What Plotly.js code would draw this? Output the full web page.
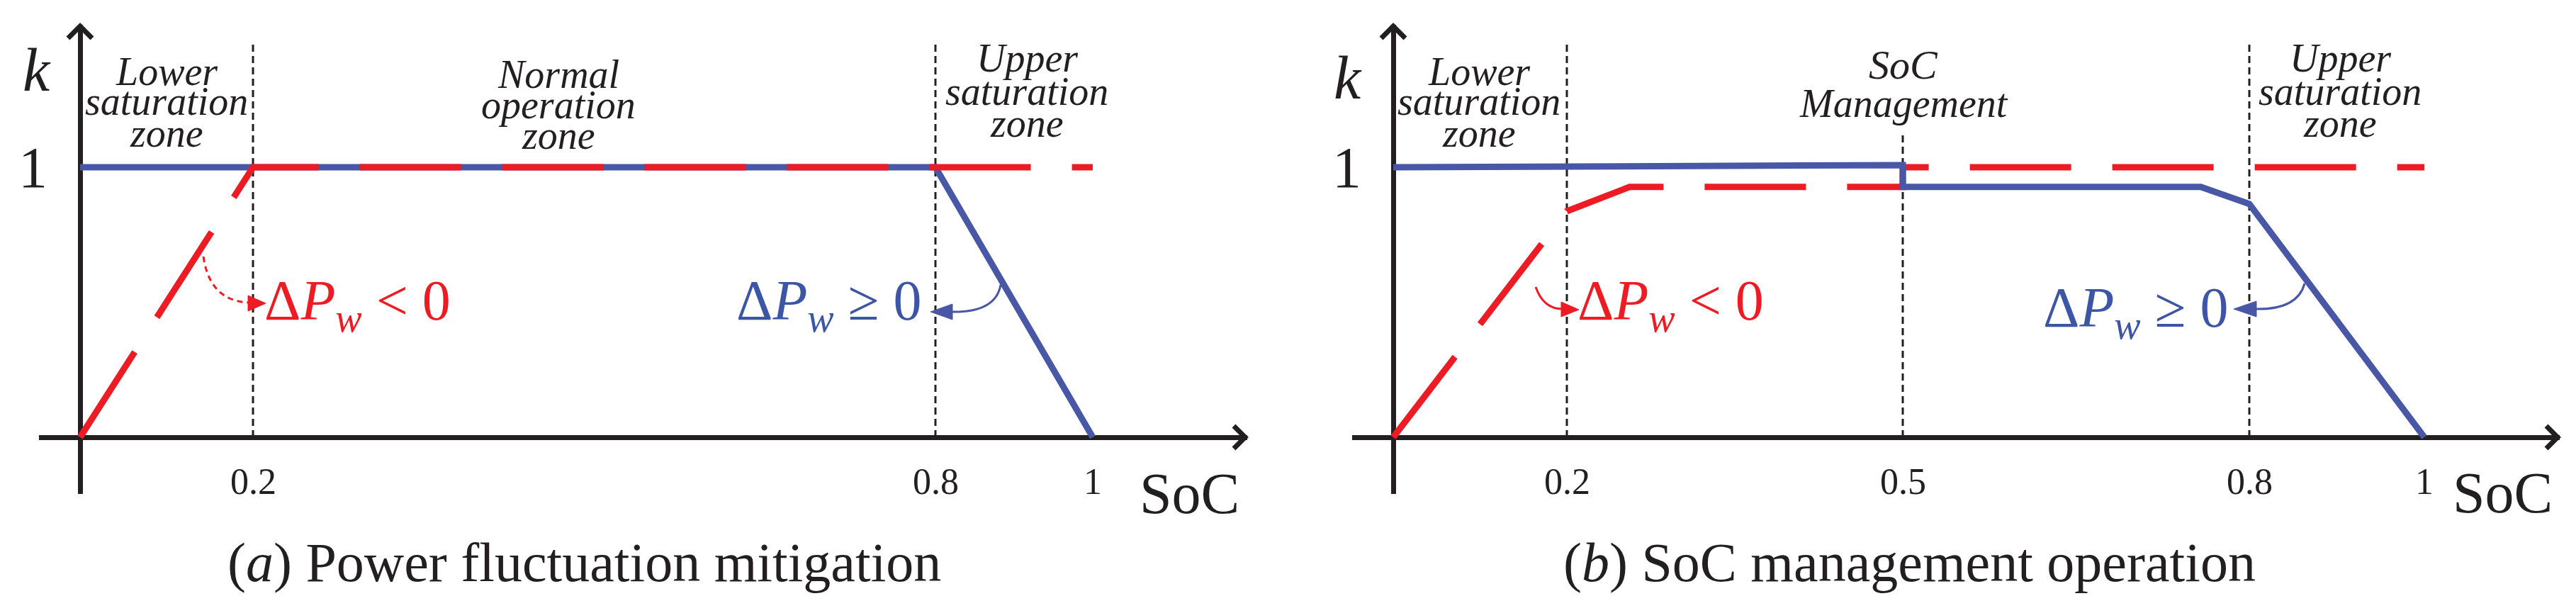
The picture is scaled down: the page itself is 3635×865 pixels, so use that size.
<!DOCTYPE html>
<html><head><meta charset="utf-8">
<script src="https://cdn.plot.ly/plotly-3.0.1.min.js"></script>
<style>html,body{margin:0;padding:0;background:#fff;} #chart{width:3635px;height:865px;}</style>
</head><body><div id="chart"></div>
<script>
// ---------------- data ----------------
// (a) Power fluctuation mitigation
const socA_red  = [0, 0.2, 1];
const kA_red    = [0, 1, 1];
const socA_blue = [0, 0.8, 1];
const kA_blue   = [1, 1, 0];
// (b) SoC management operation
const socB_red  = [0, 0.2, 0.256, 0.5, 0.5, 1];
const kB_red    = [0, 0.837, 0.927, 0.927, 1, 1];
const socB_blue = [0, 0.5, 0.5, 0.758, 0.8, 1];
const kB_blue   = [1, 1.008, 0.927, 0.927, 0.864, 0];
// ticks / zone boundaries
const ticksA = [0.2, 0.8, 1];
const tickTextA = ['0.2', '0.8', '1'];
const ticksB = [0.2, 0.5, 0.8, 1];
const tickTextB = ['0.2', '0.5', '0.8', '1'];
const boundsA = [0.2, 0.8];
const boundsB = [0.2, 0.5, 0.8];
const kTicks = [1];
const kTickText = ['1'];
const zonesA = [['Lower', 'saturation', 'zone'], ['Normal', 'operation', 'zone'], ['Upper', 'saturation', 'zone']];
const zonesB = [['Lower', 'saturation', 'zone'], ['SoC', 'Management'], ['Upper', 'saturation', 'zone']];
const captionA = '(<i>a</i>) Power fluctuation mitigation';
const captionB = '(<i>b</i>) SoC management operation';

// ---------------- layout config ----------------
const W = 3635, H = 865;
const RED = '#ED1C24', BLUE = '#4857A6', BLUE_T = '#3C55A5', BLACK = '#231F20';
const FONT = 'Liberation Serif, Times New Roman, serif';
// schematic (non-uniform) SoC axis: knots in SoC -> drawing units (px from origin)
const warpA = {soc: [0, 0.2, 0.8, 1], u: [0, 244, 1207, 1429]};
const warpB = {soc: [0, 0.2, 0.5, 0.8, 1], u: [0, 245, 719, 1208, 1455]};
function warp(w, s) {
  for (let i = 0; i < w.soc.length - 1; i++) {
    if (s <= w.soc[i + 1] || i === w.soc.length - 2) {
      const t = (s - w.soc[i]) / (w.soc[i + 1] - w.soc[i]);
      return w.u[i] + t * (w.u[i + 1] - w.u[i]);
    }
  }
}
const px = x => x / W, py = y => 1 - y / H;
function pathPx(pts, close) {
  return pts.map((p, i) => (i ? 'L' : 'M') + px(p[0]).toFixed(5) + ',' + py(p[1]).toFixed(5)).join(' ') + (close ? ' Z' : '');
}
function qPath(a, c, b) {
  return 'M' + px(a[0]) + ',' + py(a[1]) + ' Q' + px(c[0]) + ',' + py(c[1]) + ' ' + px(b[0]) + ',' + py(b[1]);
}

const traces = [
  {x: socA_blue.map(s => warp(warpA, s)), y: kA_blue, xaxis: 'x', yaxis: 'y', mode: 'lines',
   line: {color: BLUE, width: 9}, hoverinfo: 'skip'},
  {x: socA_red.map(s => warp(warpA, s)), y: kA_red, xaxis: 'x', yaxis: 'y', mode: 'lines',
   line: {color: RED, width: 9, dash: '143px,58px'}, hoverinfo: 'skip'},
  {x: socB_red.map(s => warp(warpB, s)), y: kB_red, xaxis: 'x2', yaxis: 'y2', mode: 'lines',
   line: {color: RED, width: 9, dash: '143px,58px'}, hoverinfo: 'skip'},
  {x: socB_blue.map(s => warp(warpB, s)), y: kB_blue, xaxis: 'x2', yaxis: 'y2', mode: 'lines',
   line: {color: BLUE, width: 9}, hoverinfo: 'skip'}
];

const yDom = [1 - 697 / H, 1 - 35 / H];
const yRange = [(617 - 697) / 381, (617 - 35) / 381];
const axX = (dom, rng) => ({domain: dom, range: rng, showgrid: false, showticklabels: false, ticks: '',
  zeroline: true, zerolinecolor: BLACK, zerolinewidth: 7, showline: false, fixedrange: true});
const axY = (anchor) => ({domain: yDom, range: yRange, anchor: anchor, showgrid: false, showticklabels: false, ticks: '',
  zeroline: true, zerolinecolor: BLACK, zerolinewidth: 7, showline: false, fixedrange: true});

const shapes = [];
const annotations = [];
const kTop = (617 - 57) / 381, kTopMid = (617 - 188) / 381;
boundsA.forEach(b => shapes.push({type: 'line', xref: 'x', yref: 'y', x0: warp(warpA, b), x1: warp(warpA, b), y0: 0, y1: kTop,
  line: {color: BLACK, width: 3, dash: '10px,6px'}, layer: 'below'}));
boundsB.forEach(b => shapes.push({type: 'line', xref: 'x2', yref: 'y2', x0: warp(warpB, b), x1: warp(warpB, b), y0: 0,
  y1: b === 0.5 ? kTopMid : kTop, line: {color: BLACK, width: 3, dash: '10px,6px'}, layer: 'below'}));

// axis arrowheads
[[113, 1760], [1966, 3612]].forEach(([ox, xe]) => {
  shapes.push({type: 'path', xref: 'paper', yref: 'paper', path: pathPx([[ox - 17, 54], [ox, 37], [ox + 17, 54]]),
    line: {color: BLACK, width: 7}});
  shapes.push({type: 'path', xref: 'paper', yref: 'paper', path: pathPx([[xe - 19, 601], [xe - 3, 617], [xe - 19, 633]]),
    line: {color: BLACK, width: 7}});
});

// curved pointer arrows
function pointer(start, ctrl, end, tip, back1, back2, color, dash) {
  shapes.push({type: 'path', xref: 'paper', yref: 'paper', path: qPath(start, ctrl, end),
    line: {color: color, width: 3, dash: dash || 'solid'}});
  shapes.push({type: 'path', xref: 'paper', yref: 'paper', path: pathPx([tip, back1, back2], true),
    fillcolor: color, line: {color: color, width: 1}});
}
pointer([287, 362], [296, 425], [352, 427], [375, 428], [350, 417], [350, 439], RED, '8px,6px');
pointer([1412, 402], [1405, 442], [1340, 440], [1313, 440], [1344, 429], [1344, 451], BLUE, 'solid');
pointer([2167, 405], [2178, 436], [2205, 436], [2228, 437], [2203, 426], [2203, 447], RED, 'solid');
pointer([3252, 400], [3242, 438], [3180, 436], [3152, 436], [3184, 425], [3184, 447], BLUE, 'solid');

function txt(x, y, text, size, opts) {
  return Object.assign({x: x, y: y, xref: 'paper', yref: 'paper', text: text, showarrow: false,
    xanchor: 'center', yanchor: 'middle', font: {family: FONT, size: size, color: BLACK}}, opts || {});
}

// x tick labels
ticksA.forEach((t, i) => annotations.push(txt(warp(warpA, t), py(679), tickTextA[i], 52, {xref: 'x'})));
ticksB.forEach((t, i) => annotations.push(txt(warp(warpB, t), py(679), tickTextB[i], 52, {xref: 'x2'})));
// k tick label and axis titles
kTicks.forEach((t, i) => {
  annotations.push(txt(px(46), t, kTickText[i], 82, {yref: 'y'}));
  annotations.push(txt(px(1900), t, kTickText[i], 82, {yref: 'y2'}));
});
annotations.push(txt(px(52), py(99), '<i>k</i>', 86));
annotations.push(txt(px(1902), py(110), '<i>k</i>', 86));
annotations.push(txt(px(1678), py(696), 'SoC', 82));
annotations.push(txt(px(3531), py(695), 'SoC', 82));

// zone labels (one annotation per line, tight leading)
function zone(lines, cx, centers, size) {
  lines.forEach((l, i) => annotations.push(txt(px(cx), py(centers[i]), '<i>' + l + '</i>', size)));
}
zone(zonesA[0], 235, [101, 143, 188], 56);
zone(zonesA[1], 788, [105, 148, 191], 56);
zone(zonesA[2], 1449, [82, 129, 174], 56);
zone(zonesB[0], 2087, [101, 143, 188], 56);
annotations.push(txt(px(2686), py(92), '<i>' + zonesB[1][0] + '</i>', 58));
annotations.push(txt(px(2686), py(146), '<i>' + zonesB[1][1] + '</i>', 56));
zone(zonesB[2], 3302, [82, 129, 174], 56);

// condition labels
const condLess = 'Δ<i>P</i><sub><i>w</i></sub> &lt; 0';
const condGeq = 'Δ<i>P</i><sub><i>w</i></sub> ≥ 0';
annotations.push(txt(px(504), py(430), condLess, 80, {font: {family: FONT, size: 80, color: RED}}));
annotations.push(txt(px(1170), py(430), condGeq, 80, {font: {family: FONT, size: 80, color: BLUE_T}}));
annotations.push(txt(px(2357), py(430), condLess, 80, {font: {family: FONT, size: 80, color: RED}}));
annotations.push(txt(px(3014), py(440), condGeq, 80, {font: {family: FONT, size: 80, color: BLUE_T}}));

// captions
annotations.push(txt(px(824), py(793), captionA, 78));
annotations.push(txt(px(2694), py(793), captionB, 78));

const layout = {
  width: W, height: H, margin: {l: 0, r: 0, t: 0, b: 0},
  paper_bgcolor: '#ffffff', plot_bgcolor: 'rgba(0,0,0,0)', showlegend: false,
  xaxis: Object.assign(axX([55 / W, 1760 / W], [55 - 113, 1760 - 113]), {anchor: 'y'}),
  yaxis: axY('x'),
  xaxis2: Object.assign(axX([1908 / W, 3612 / W], [1908 - 1966, 3612 - 1966]), {anchor: 'y2'}),
  yaxis2: axY('x2'),
  shapes: shapes, annotations: annotations
};
Plotly.newPlot('chart', traces, layout, {staticPlot: true, displayModeBar: false});
</script></body></html>
